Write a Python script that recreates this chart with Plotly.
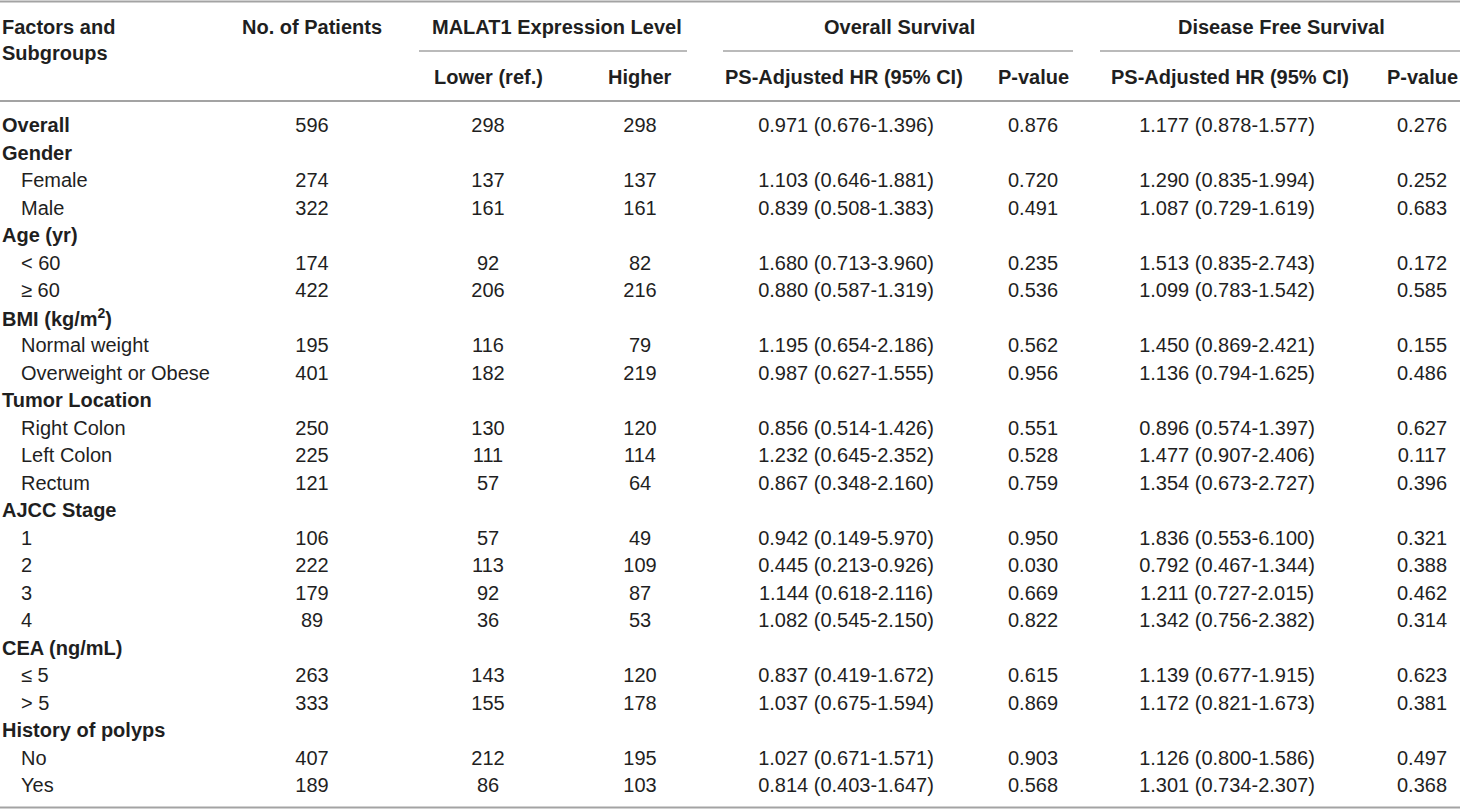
import plotly.graph_objects as go

# ---------------- data ----------------
labels = ["Overall", "Gender", "Female", "Male", "Age (yr)", "&lt; 60", "≥ 60",
          "BMI (kg/m<sup>2</sup>)", "Normal weight", "Overweight or Obese",
          "Tumor Location", "Right Colon", "Left Colon", "Rectum",
          "AJCC Stage", "1", "2", "3", "4",
          "CEA (ng/mL)", "≤ 5", "&gt; 5",
          "History of polyps", "No", "Yes"]
is_bold = [True, True, False, False, True, False, False,
           True, False, False,
           True, False, False, False,
           True, False, False, False, False,
           True, False, False,
           True, False, False]
patients = [596, None, 274, 322, None, 174, 422, None, 195, 401, None, 250, 225, 121,
            None, 106, 222, 179, 89, None, 263, 333, None, 407, 189]
lower = [298, None, 137, 161, None, 92, 206, None, 116, 182, None, 130, 111, 57,
         None, 57, 113, 92, 36, None, 143, 155, None, 212, 86]
higher = [298, None, 137, 161, None, 82, 216, None, 79, 219, None, 120, 114, 64,
          None, 49, 109, 87, 53, None, 120, 178, None, 195, 103]
os_hr = [0.971, None, 1.103, 0.839, None, 1.680, 0.880, None, 1.195, 0.987, None,
         0.856, 1.232, 0.867, None, 0.942, 0.445, 1.144, 1.082, None, 0.837, 1.037,
         None, 1.027, 0.814]
os_lo = [0.676, None, 0.646, 0.508, None, 0.713, 0.587, None, 0.654, 0.627, None,
         0.514, 0.645, 0.348, None, 0.149, 0.213, 0.618, 0.545, None, 0.419, 0.675,
         None, 0.671, 0.403]
os_hi = [1.396, None, 1.881, 1.383, None, 3.960, 1.319, None, 2.186, 1.555, None,
         1.426, 2.352, 2.160, None, 5.970, 0.926, 2.116, 2.150, None, 1.672, 1.594,
         None, 1.571, 1.647]
os_p = [0.876, None, 0.720, 0.491, None, 0.235, 0.536, None, 0.562, 0.956, None,
        0.551, 0.528, 0.759, None, 0.950, 0.030, 0.669, 0.822, None, 0.615, 0.869,
        None, 0.903, 0.568]
dfs_hr = [1.177, None, 1.290, 1.087, None, 1.513, 1.099, None, 1.450, 1.136, None,
          0.896, 1.477, 1.354, None, 1.836, 0.792, 1.211, 1.342, None, 1.139, 1.172,
          None, 1.126, 1.301]
dfs_lo = [0.878, None, 0.835, 0.729, None, 0.835, 0.783, None, 0.869, 0.794, None,
          0.574, 0.907, 0.673, None, 0.553, 0.467, 0.727, 0.756, None, 0.677, 0.821,
          None, 0.800, 0.734]
dfs_hi = [1.577, None, 1.994, 1.619, None, 2.743, 1.542, None, 2.421, 1.625, None,
          1.397, 2.406, 2.727, None, 6.100, 1.344, 2.015, 2.382, None, 1.915, 1.673,
          None, 1.586, 2.307]
dfs_p = [0.276, None, 0.252, 0.683, None, 0.172, 0.585, None, 0.155, 0.486, None,
         0.627, 0.117, 0.396, None, 0.321, 0.388, 0.462, 0.314, None, 0.623, 0.381,
         None, 0.497, 0.368]

group_headers = ["MALAT1 Expression Level", "Overall Survival", "Disease Free Survival"]
col_headers = ["No. of Patients", "Lower (ref.)", "Higher",
               "PS-Adjusted HR (95% CI)", "P-value", "PS-Adjusted HR (95% CI)", "P-value"]

# ---------------- layout constants ----------------
W, H = 1460, 809
ROW0, ROWH = 125.0, 27.5          # pixel centre of first row, row pitch


def py(px):                         # pixel row -> data-row units
    return (px - ROW0) / ROWH


FONT = "Liberation Sans, Arial, Helvetica, sans-serif"
TXT = "#1f1f1f"
LINE = "#a3a3a3"
FS = 20
TEXT_SHIFT = 2.0 / ROWH             # small nudge so trace text lines up with labels

col_x = [312, 488, 640, 846, 1033, 1227, 1422]
group_x = [557, 899, 1281]
group_span = [(419, 687), (723, 1073), (1100, 1460)]


def fmt_int(v):
    return "" if v is None else str(v)


def fmt_p(v):
    return "" if v is None else f"{v:.3f}"


def fmt_ci(h, lo, hi):
    return "" if h is None else f"{h:.3f} ({lo:.3f}-{hi:.3f})"


columns = [
    [fmt_int(v) for v in patients],
    [fmt_int(v) for v in lower],
    [fmt_int(v) for v in higher],
    [fmt_ci(h, l, u) for h, l, u in zip(os_hr, os_lo, os_hi)],
    [fmt_p(v) for v in os_p],
    [fmt_ci(h, l, u) for h, l, u in zip(dfs_hr, dfs_lo, dfs_hi)],
    [fmt_p(v) for v in dfs_p],
]

fig = go.Figure()

for cx, texts in zip(col_x, columns):
    ys = [i + TEXT_SHIFT for i, t in enumerate(texts) if t]
    ts = [t for t in texts if t]
    fig.add_trace(go.Scatter(
        x=[cx] * len(ys), y=ys, text=ts, mode="text",
        textposition="middle center",
        textfont=dict(family=FONT, size=FS, color=TXT),
        hoverinfo="skip", showlegend=False))

annotations = []
for i, (lab, b) in enumerate(zip(labels, is_bold)):
    annotations.append(dict(
        x=0 if b else 19, y=i, xref="x", yref="y", xanchor="left", yanchor="middle",
        text=f"<b>{lab}</b>" if b else lab, showarrow=False,
        font=dict(family=FONT, size=FS, color=TXT)))

# header texts
annotations.append(dict(x=0, y=py(27), xref="x", yref="y", xanchor="left", yanchor="middle",
                        text="<b>Factors and</b>", showarrow=False,
                        font=dict(family=FONT, size=FS, color=TXT)))
annotations.append(dict(x=0, y=py(53), xref="x", yref="y", xanchor="left", yanchor="middle",
                        text="<b>Subgroups</b>", showarrow=False,
                        font=dict(family=FONT, size=FS, color=TXT)))
annotations.append(dict(x=col_x[0], y=py(27), xref="x", yref="y", xanchor="center",
                        yanchor="middle", text=f"<b>{col_headers[0]}</b>", showarrow=False,
                        font=dict(family=FONT, size=FS, color=TXT)))
for gx, g in zip(group_x, group_headers):
    annotations.append(dict(x=gx, y=py(27), xref="x", yref="y", xanchor="center",
                            yanchor="middle", text=f"<b>{g}</b>", showarrow=False,
                            font=dict(family=FONT, size=FS, color=TXT)))
head_x = [488, 640, 844, 1033, 1230, 1422]
for cx, h in zip(head_x, col_headers[1:]):
    annotations.append(dict(x=cx, y=py(77), xref="x", yref="y", xanchor="center",
                            yanchor="middle", text=f"<b>{h}</b>", showarrow=False,
                            font=dict(family=FONT, size=FS, color=TXT)))

shapes = []
for ypx, w in [(1.5, 2), (101, 2), (807.5, 2)]:
    shapes.append(dict(type="line", xref="x", yref="y", x0=0, x1=W, y0=py(ypx), y1=py(ypx),
                       line=dict(color=LINE, width=w)))
for a, b in group_span:
    shapes.append(dict(type="line", xref="x", yref="y", x0=a, x1=b, y0=py(51), y1=py(51),
                       line=dict(color=LINE, width=1.5)))

fig.update_layout(
    width=W, height=H, margin=dict(l=0, r=0, t=0, b=0),
    paper_bgcolor="white", plot_bgcolor="white",
    xaxis=dict(range=[0, W], visible=False, fixedrange=True),
    yaxis=dict(range=[py(H), py(0)], visible=False, fixedrange=True),
    annotations=annotations, shapes=shapes,
)

fig.write_html("out.html", config={"displayModeBar": False},
               post_script="document.body.style.margin='0';document.body.style.overflow='hidden';")
